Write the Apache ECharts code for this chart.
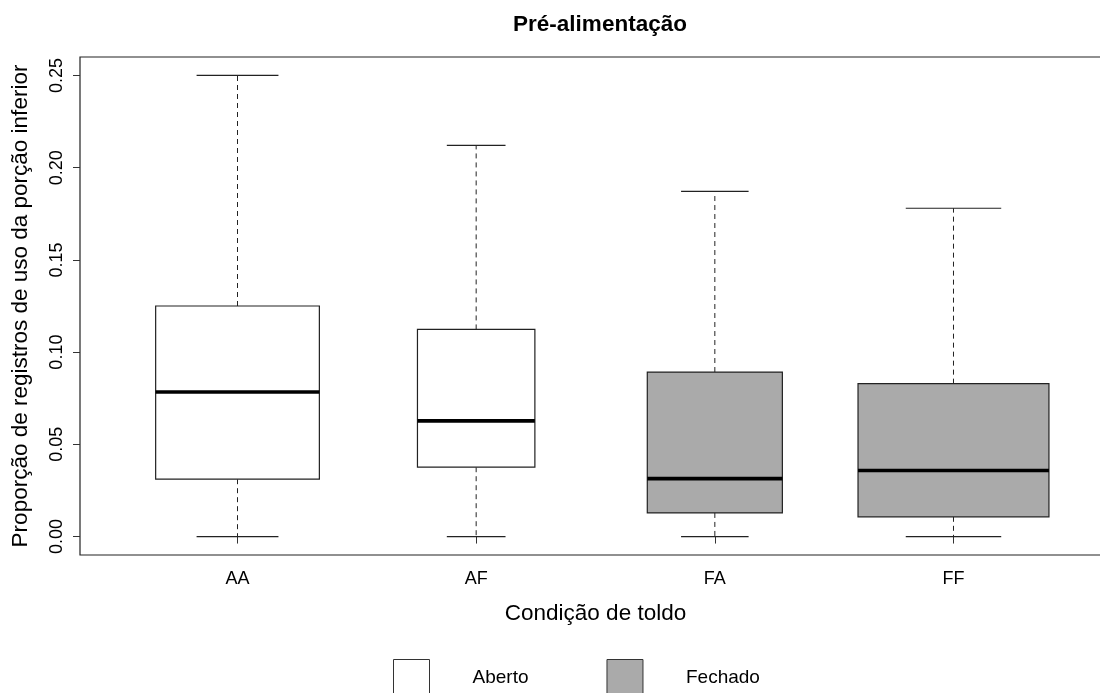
<!DOCTYPE html>
<html>
<head>
<meta charset="utf-8">
<title>Pré-alimentação</title>
<script src="https://cdn.jsdelivr.net/npm/echarts@6/dist/echarts.min.js"></script>
<style>
  html, body { margin: 0; padding: 0; background: #fff; }
  #chart { width: 1100px; height: 693px; }
</style>
</head>
<body>
<div id="chart"></div>
<script>
// Box statistics per canopy condition (proportion of records in the lower portion)
const categories   = ['AA', 'AF', 'FA', 'FF'];
const condition    = ['Aberto', 'Aberto', 'Fechado', 'Fechado'];
const whiskerLow   = [0, 0, 0, 0];
const lowerQuart   = [0.0311, 0.0376, 0.0128, 0.0107];
const medians      = [0.0784, 0.0627, 0.0314, 0.0358];
const upperQuart   = [0.125, 0.1123, 0.0892, 0.0829];
const whiskerHigh  = [0.25, 0.2121, 0.1872, 0.178];
const yTicks       = [0, 0.05, 0.10, 0.15, 0.20, 0.25];
const legendNames  = ['Aberto', 'Fechado'];

// Relative box widths (proportional to sqrt of group size)
const boxWidths = [0.686, 0.492, 0.566, 0.80];
const fills = { Aberto: '#ffffff', Fechado: '#aaaaaa' };
const FONT = '"Liberation Sans", Arial, sans-serif';

function seriesData(name) {
  const out = [];
  categories.forEach((c, i) => {
    if (condition[i] === name) {
      out.push([i + 1, whiskerLow[i], lowerQuart[i], medians[i], upperQuart[i], whiskerHigh[i]]);
    }
  });
  return out;
}

function renderBox(params, api) {
  const x = api.value(0);
  const lo = api.value(1), q1 = api.value(2), md = api.value(3), q3 = api.value(4), hi = api.value(5);
  const w = boxWidths[x - 1];
  const half = api.size([w / 2, 0])[0];
  const cx = api.coord([x, 0])[0];
  const yLo = api.coord([x, lo])[1];
  const yQ1 = api.coord([x, q1])[1];
  const yMd = api.coord([x, md])[1];
  const yQ3 = api.coord([x, q3])[1];
  const yHi = api.coord([x, hi])[1];
  const fill = api.visual('color');
  const dashStyle = { stroke: '#222', lineWidth: 1, lineDash: [5, 4] };
  const solid = { stroke: '#222', lineWidth: 1.2 };
  return {
    type: 'group',
    children: [
      { type: 'line', shape: { x1: cx, y1: yQ3, x2: cx, y2: yHi }, style: dashStyle },
      { type: 'line', shape: { x1: cx, y1: yQ1, x2: cx, y2: yLo }, style: dashStyle },
      { type: 'rect', shape: { x: cx - half, y: yQ3, width: 2 * half, height: yQ1 - yQ3 },
        style: { fill: fill, stroke: '#222', lineWidth: 1.2 } },
      { type: 'line', shape: { x1: cx - half, y1: yMd, x2: cx + half, y2: yMd },
        style: { stroke: '#000', lineWidth: 3.6 } },
      { type: 'line', shape: { x1: cx - half / 2, y1: yHi, x2: cx + half / 2, y2: yHi }, style: solid },
      { type: 'line', shape: { x1: cx - half / 2, y1: yLo, x2: cx + half / 2, y2: yLo }, style: solid }
    ]
  };
}

const chart = echarts.init(document.getElementById('chart'), null, { renderer: 'canvas' });

chart.setOption({
  animation: false,
  backgroundColor: '#fff',
  textStyle: { fontFamily: FONT, color: '#000' },
  title: {
    text: 'Pré-alimentação',
    left: 595,
    textAlign: 'center',
    top: 8,
    textStyle: { fontFamily: FONT, fontSize: 22.5, fontWeight: 'bold', color: '#000' }
  },
  legend: {
    data: legendNames.map(n => ({
      name: n,
      icon: 'rect',
      itemStyle: { color: fills[n], borderColor: '#333', borderWidth: 1 }
    })),
    left: 393,
    top: 659,
    padding: 0,
    itemWidth: 36,
    itemHeight: 36,
    itemGap: 78,
    selectedMode: false,
    textStyle: { fontFamily: FONT, fontSize: 19, color: '#000', padding: [0, 0, 0, 38] }
  },
  grid: {
    left: 80, top: 57, width: 1031, height: 498,
    outerBoundsMode: 'none',
    containLabel: false,
    show: true, borderColor: '#222', borderWidth: 1.2, backgroundColor: 'transparent'
  },
  xAxis: {
    type: 'value',
    min: 0.34, max: 4.66,
    name: 'Condição de toldo',
    nameLocation: 'middle',
    nameGap: 47,
    nameTextStyle: { fontFamily: FONT, fontSize: 22.5, color: '#000' },
    axisLine: { show: false },
    splitLine: { show: false },
    axisTick: { show: true, length: 7, lineStyle: { color: '#333' }, customValues: [1, 2, 3, 4] },
    axisLabel: {
      customValues: [1, 2, 3, 4],
      formatter: v => categories[Math.round(v) - 1],
      fontFamily: FONT, fontSize: 18, color: '#000', margin: 15
    }
  },
  yAxis: {
    type: 'value',
    min: -0.01, max: 0.26,
    name: 'Proporção de registros de uso da porção inferior',
    nameLocation: 'middle',
    nameGap: 48,
    nameTextStyle: { fontFamily: FONT, fontSize: 22.5, color: '#000' },
    axisLine: { show: false },
    splitLine: { show: false },
    axisTick: { show: true, length: 7, lineStyle: { color: '#333' }, customValues: yTicks },
    axisLabel: {
      customValues: yTicks,
      rotate: 90,
      formatter: v => v.toFixed(2),
      fontFamily: FONT, fontSize: 18, color: '#000', margin: 14
    }
  },
  series: legendNames.map(n => ({
    type: 'custom',
    name: n,
    renderItem: renderBox,
    itemStyle: { color: fills[n] },
    encode: { x: 0, y: [1, 2, 3, 4, 5] },
    data: seriesData(n),
    clip: false
  }))
});
</script>
</body>
</html>
